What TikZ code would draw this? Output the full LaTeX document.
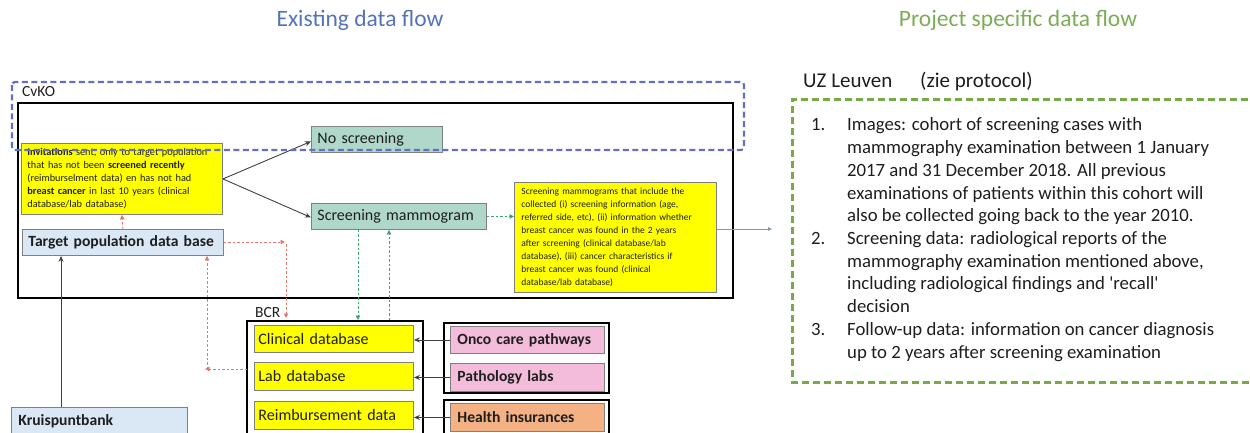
\documentclass[tikz,border=0pt]{standalone}
\usepackage{fontspec}
\setmainfont{Carlito}[Ligatures=TeXOff]
\usetikzlibrary{arrows.meta,calc}
\definecolor{tblue}{RGB}{84,115,186}
\definecolor{tgreen}{RGB}{124,172,86}
\definecolor{dblue}{RGB}{98,112,196}
\definecolor{dgreen}{RGB}{118,170,70}
\definecolor{cteal}{RGB}{176,216,202}
\definecolor{cyel}{RGB}{255,255,0}
\definecolor{clblue}{RGB}{218,232,246}
\definecolor{cpink}{RGB}{242,188,218}
\definecolor{corange}{RGB}{244,177,131}
\definecolor{cred}{RGB}{226,120,110}
\definecolor{cgarr}{RGB}{58,165,112}
\definecolor{cgray}{RGB}{132,151,176}
\definecolor{ctext}{RGB}{30,30,30}
\definecolor{cborder}{RGB}{128,128,128}
\begin{document}
\begin{tikzpicture}[x=1pt,y=-1pt,
  box/.style={draw=cborder, line width=0.9pt, anchor=north west, inner xsep=6pt, inner ysep=0pt, align=left, text=ctext},
  grp/.style={draw=black, line width=2pt},
  blk/.style={-{Stealth[length=6pt,width=5pt]}, line width=0.9pt, draw=black!75},
  redarr/.style={-{Triangle[length=4.5pt,width=4.5pt]}, draw=cred, dash pattern=on 2.5pt off 2pt, line width=0.8pt},
  grnarr/.style={-{Triangle[length=4.5pt,width=4.5pt]}, draw=cgarr, dash pattern=on 2.5pt off 2pt, line width=0.8pt},
  title/.style={font=\fontsize{23.5}{27}\selectfont, anchor=base, inner sep=0pt},
  listtxt/.style={font=\fontsize{18.75}{22}\selectfont, text=ctext, anchor=base west, inner sep=0pt},
  small/.style={font=\fontsize{10.3}{13}\selectfont},
  tiny/.style={font=\fontsize{9.5}{13.05}\selectfont},
  lbl/.style={font=\fontsize{16}{18}\selectfont},
  lblb/.style={font=\fontsize{15.6}{18}\selectfont\bfseries}
]
\useasboundingbox (0,0) rectangle (1250,433);
\clip (0,0) rectangle (1250,433);

% titles
\node[title, text=tblue] (t1) at (360,27) {Existing data flow};
\node[title, text=tgreen] (t2) at (1018,27) {Project specific data flow};

% CvKO group
\draw[grp] (18,103) rectangle (733,298);
\node[font=\fontsize{15.5}{18}\selectfont, anchor=base west, inner sep=0pt, text=ctext] (cvko) at (22,97) {CvKO};

% boxes in CvKO
\node[box, fill=cyel, small, text width=189pt, minimum height=71pt] (inv) at (21,143)
  {\textbf{Invitations} sent, only to target population\\
   that has not been \textbf{screened recently}\\
   (reimburselment data) en has not had\\
   \textbf{breast cancer} in last 10 years (clinical\\
   database/lab database)};
\node[box, fill=clblue, lblb, text width=189pt, minimum height=26pt] (target) at (22,229) {Target population data base};
\node[box, fill=cteal, lbl, text width=119pt, minimum height=26pt] (nos) at (311,126) {No screening};
\node[box, fill=cteal, lbl, text width=163pt, minimum height=26pt] (mam) at (311,203) {Screening mammogram};
\node[box, fill=cyel, tiny, inner xsep=7pt, text width=188pt, minimum height=110pt] (ybig) at (514,182)
  {Screening mammograms that include the\\
   collected (i) screening information (age,\\
   referred side, etc), (ii) information whether\\
   breast cancer was found in the 2 years\\
   after screening (clinical database/lab\\
   database), (iii) cancer characteristics if\\
   breast cancer was found (clinical\\
   database/lab database)};

% BCR group
\draw[grp] (247,321) rectangle (423,460);
\node[font=\fontsize{15.5}{18}\selectfont, anchor=base west, inner sep=0pt, text=ctext] (bcr) at (255,317) {BCR};
\node[box, fill=cyel, lbl, inner xsep=4pt, text width=151pt, minimum height=27pt] (clin) at (254,325) {Clinical database};
\node[box, fill=cyel, lbl, inner xsep=4pt, text width=151pt, minimum height=28pt] (lab) at (254,362) {Lab database};
\node[box, fill=cyel, lbl, inner xsep=4pt, text width=151pt, minimum height=28pt] (reimb) at (254,401) {Reimbursement data};

% source groups
\draw[grp] (444,323) rectangle (609,393);
\draw[grp] (444,400) rectangle (609,460);
\node[box, fill=cpink, lblb, inner xsep=7pt, text width=140pt, minimum height=27pt] (onco) at (450,326) {Onco care pathways};
\node[box, fill=cpink, lblb, inner xsep=7pt, text width=140pt, minimum height=28pt] (path) at (450,363) {Pathology labs};
\node[box, fill=corange, lblb, inner xsep=7pt, text width=140pt, minimum height=28pt] (health) at (450,403) {Health insurances};

% Kruispuntbank
\node[box, fill=clblue, lblb, inner xsep=7pt, text width=162pt, minimum height=28pt] (kruis) at (11,407) {Kruispuntbank};

% connectors: black
\draw[blk] (inv.east) -- ($(nos.west)+(0,2)$);
\draw[blk] (inv.east) -- ($(mam.west)+(0,1)$);
\draw[blk] (kruis.north -| 61,0) -- (target.south -| 61,0);
\draw[blk] (onco.west) -- (onco.west -| clin.east);
\draw[blk] (path.west) -- (path.west -| lab.east);
\draw[blk] (health.west) -- (health.west -| reimb.east);

% red dashed
\draw[redarr] (target.north) -- (inv.south);
\coordinate (rc1) at (285,242);
\coordinate (rc2) at (207,369);
\draw[redarr] (target.east |- rc1) -- (rc1);
\draw[redarr] ($(rc1)+(1,2)$) -- (286,318);
\draw[redarr] (247,369) -- ($(rc2)+(-2,0)$);
\draw[redarr] (rc2) -- (target.south -| rc2);

% green dashed
\draw[grnarr] (mam.east) -- (mam.east -| ybig.west);
\draw[grnarr] (mam.south -| 358,0) -- (358,320);
\draw[grnarr] (389,320) -- (mam.south -| 389,0);

% right arrow
\coordinate (uzend) at (772,229);
\draw[draw=cgray, line width=0.9pt, -{Triangle[length=4pt,width=3.5pt]}] (ybig.east |- uzend) -- (uzend);

% right side
\node[font=\fontsize{21}{24}\selectfont, anchor=base west, inner sep=0pt, text=ctext] (uz) at (803,88) {UZ Leuven};
\node[font=\fontsize{21}{24}\selectfont, anchor=base west, inner sep=0pt, text=ctext] (zie) at (920,88) {(zie protocol)};
\draw[draw=dgreen, line width=3pt, dash pattern=on 7pt off 4pt] (1270,100) -- (792,100) -- (792,382) -- (1270,382);

\node[listtxt] (n1) at (811,131) {1.};
\node[listtxt] (n2) at (811,244.5) {2.};
\node[listtxt] (n3) at (811,335.3) {3.};
\node[listtxt] (l1) at (847,131) {Images: cohort of screening cases with};
\node[listtxt] (l2) at (847,153.7) {mammography examination between 1 January};
\node[listtxt] (l3) at (847,176.4) {2017 and 31 December 2018. All previous};
\node[listtxt] (l4) at (847,199.1) {examinations of patients within this cohort will};
\node[listtxt] (l5) at (847,221.8) {also be collected going back to the year 2010.};
\node[listtxt] (l6) at (847,244.5) {Screening data: radiological reports of the};
\node[listtxt] (l7) at (847,267.2) {mammography examination mentioned above,};
\node[listtxt] (l8) at (847,289.9) {including radiological findings and 'recall'};
\node[listtxt] (l9) at (847,312.6) {decision};
\node[listtxt] (l10) at (847,335.3) {Follow-up data: information on cancer diagnosis};
\node[listtxt] (l11) at (847,358) {up to 2 years after screening examination};

% blue dashed (on top)
\draw[draw=dblue, line width=2.2pt, dash pattern=on 6pt off 3.5pt, rounded corners=3pt] (12,82) rectangle (744,150);
\end{tikzpicture}
\end{document}
